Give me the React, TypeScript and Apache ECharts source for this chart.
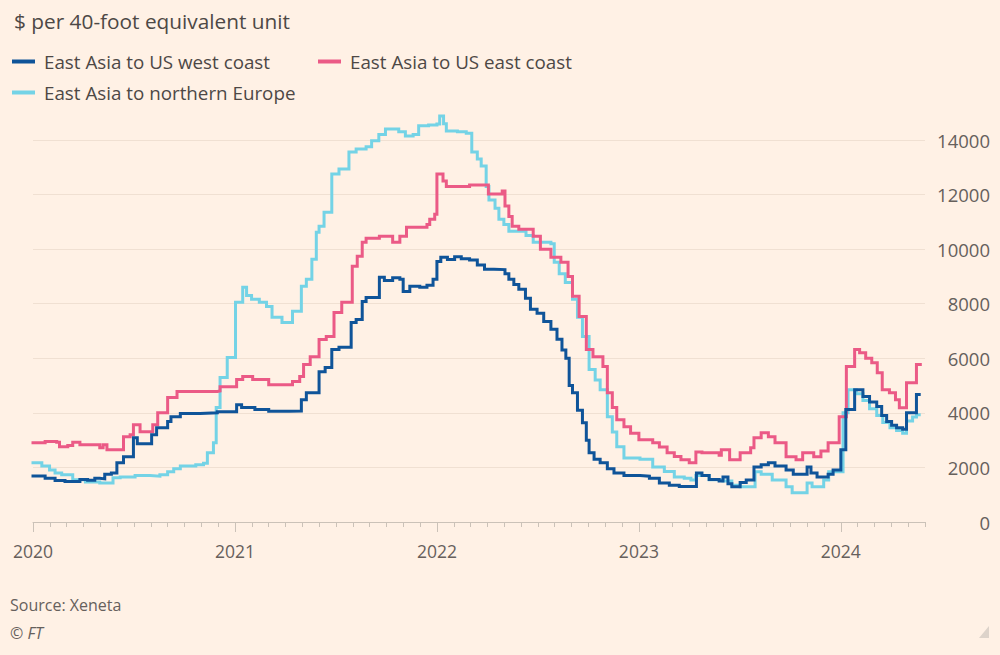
import React, { useEffect, useRef } from 'react';
import * as echarts from 'echarts';

const TITLE = '$ per 40-foot equivalent unit';
const SOURCE = 'Source: Xeneta';
const COPYRIGHT = '© FT';
const SERIES_NAMES = ['East Asia to US west coast', 'East Asia to US east coast', 'East Asia to northern Europe'];
const YEAR_LABELS = [2020, 2021, 2022, 2023, 2024];
const X_END_MONTHS = 5; // axis runs to the start of June 2024
const Y_MAX = 14000;
const Y_STEP = 2000;

const westCoast: [string, number][] = [
  ['2020-01-01', 1690], ['2020-01-23', 1600], ['2020-02-10', 1520], ['2020-02-28', 1480],
  ['2020-03-26', 1560], ['2020-04-09', 1530], ['2020-04-22', 1600], ['2020-05-01', 1580],
  ['2020-05-10', 1750], ['2020-05-22', 1800], ['2020-06-01', 2170], ['2020-06-13', 2390],
  ['2020-07-01', 3090], ['2020-07-08', 2870], ['2020-08-03', 3200], ['2020-08-12', 3450],
  ['2020-09-01', 3680], ['2020-09-07', 3860], ['2020-09-24', 3980], ['2020-10-30', 4000],
  ['2020-11-30', 4040], ['2021-01-04', 4300], ['2021-01-13', 4200], ['2021-02-06', 4120],
  ['2021-03-03', 4060], ['2021-04-09', 4070], ['2021-05-01', 4480], ['2021-05-10', 4740],
  ['2021-06-02', 5510], ['2021-06-13', 5660], ['2021-06-25', 6320], ['2021-07-08', 6400],
  ['2021-07-30', 7310], ['2021-08-08', 7420], ['2021-08-19', 8080], ['2021-08-26', 8230],
  ['2021-09-19', 8970], ['2021-09-28', 8850], ['2021-10-13', 8950], ['2021-10-26', 8900],
  ['2021-11-01', 8450], ['2021-11-13', 8640], ['2021-12-01', 8600], ['2021-12-14', 8680],
  ['2021-12-25', 8900], ['2022-01-01', 9550], ['2022-01-08', 9700], ['2022-01-20', 9620],
  ['2022-02-02', 9720], ['2022-02-14', 9650], ['2022-03-01', 9600], ['2022-03-15', 9420],
  ['2022-03-28', 9260], ['2022-04-14', 9250], ['2022-05-04', 9100], ['2022-05-11', 8900],
  ['2022-05-20', 8700], ['2022-05-29', 8530], ['2022-06-10', 8200], ['2022-06-19', 7800],
  ['2022-07-01', 7650], ['2022-07-13', 7350], ['2022-07-26', 7060], ['2022-08-06', 6700],
  ['2022-08-15', 6300], ['2022-08-22', 6000], ['2022-08-28', 5000], ['2022-09-03', 4740],
  ['2022-09-12', 4100], ['2022-09-21', 3640], ['2022-09-28', 3000], ['2022-10-03', 2540],
  ['2022-10-12', 2300], ['2022-10-23', 2170], ['2022-11-05', 1950], ['2022-11-17', 1800],
  ['2022-12-05', 1700], ['2023-01-03', 1680], ['2023-01-20', 1600], ['2023-02-07', 1430],
  ['2023-02-25', 1350], ['2023-03-15', 1300], ['2023-04-15', 1800], ['2023-04-25', 1700],
  ['2023-05-08', 1560], ['2023-05-26', 1500], ['2023-06-02', 1650], ['2023-06-11', 1400],
  ['2023-06-18', 1290], ['2023-07-03', 1450], ['2023-07-14', 1540], ['2023-07-28', 2020],
  ['2023-08-10', 2100], ['2023-08-23', 2170], ['2023-09-04', 2050], ['2023-09-24', 1910],
  ['2023-10-07', 1750], ['2023-11-01', 2020], ['2023-11-08', 1800], ['2023-11-19', 1650],
  ['2023-12-09', 1750], ['2023-12-18', 1910], ['2024-01-01', 2650], ['2024-01-10', 4120],
  ['2024-01-26', 4850], ['2024-02-10', 4600], ['2024-02-22', 4400], ['2024-03-06', 4230],
  ['2024-03-15', 3900], ['2024-03-24', 3680], ['2024-04-02', 3550], ['2024-04-11', 3450],
  ['2024-04-22', 3400], ['2024-04-29', 4000], ['2024-05-17', 4670], ['2024-05-22', 4670],
];

const eastCoast: [string, number][] = [
  ['2020-01-01', 2900], ['2020-01-23', 2950], ['2020-02-13', 2920], ['2020-02-18', 2760],
  ['2020-03-04', 2800], ['2020-03-13', 2920], ['2020-03-26', 2830], ['2020-05-01', 2720],
  ['2020-05-07', 2830], ['2020-05-14', 2650], ['2020-06-13', 3120], ['2020-06-25', 3200],
  ['2020-07-01', 3560], ['2020-07-13', 3310], ['2020-08-05', 3560], ['2020-08-14', 4000],
  ['2020-09-01', 4560], ['2020-09-18', 4780], ['2020-11-30', 4800], ['2020-12-05', 4960],
  ['2021-01-04', 5220], ['2021-01-15', 5330], ['2021-02-02', 5220], ['2021-03-03', 5030],
  ['2021-04-15', 5150], ['2021-04-28', 5330], ['2021-05-05', 5770], ['2021-05-17', 6060],
  ['2021-06-02', 6690], ['2021-06-15', 6800], ['2021-06-29', 7680], ['2021-07-13', 8050],
  ['2021-08-01', 9370], ['2021-08-10', 9740], ['2021-08-19', 10250], ['2021-08-26', 10400],
  ['2021-09-19', 10470], ['2021-10-13', 10250], ['2021-10-26', 10470], ['2021-11-07', 10800],
  ['2021-12-14', 10900], ['2021-12-19', 11100], ['2021-12-28', 11280], ['2022-01-01', 12750],
  ['2022-01-12', 12500], ['2022-01-18', 12300], ['2022-03-01', 12350], ['2022-04-04', 12020],
  ['2022-04-29', 12130], ['2022-05-04', 11580], ['2022-05-11', 11200], ['2022-05-17', 10840],
  ['2022-05-29', 10730], ['2022-06-24', 10470], ['2022-07-07', 10000], ['2022-07-26', 9700],
  ['2022-08-13', 9520], ['2022-08-26', 9000], ['2022-09-03', 8270], ['2022-09-15', 7530],
  ['2022-09-28', 6320], ['2022-10-10', 6060], ['2022-10-28', 5700], ['2022-11-05', 4740],
  ['2022-11-14', 4200], ['2022-11-22', 3750], ['2022-12-05', 3490], ['2022-12-17', 3250],
  ['2023-01-01', 3010], ['2023-01-26', 2900], ['2023-02-07', 2750], ['2023-02-21', 2540],
  ['2023-03-06', 2400], ['2023-03-18', 2280], ['2023-04-02', 2170], ['2023-04-14', 2570],
  ['2023-04-25', 2540], ['2023-05-26', 2450], ['2023-05-30', 2650], ['2023-06-14', 2280],
  ['2023-07-03', 2540], ['2023-07-22', 2720], ['2023-07-28', 3090], ['2023-08-10', 3270],
  ['2023-08-23', 3120], ['2023-09-04', 2900], ['2023-09-24', 2390], ['2023-10-12', 2280],
  ['2023-10-24', 2540], ['2023-11-13', 2390], ['2023-11-26', 2600], ['2023-12-09', 2900],
  ['2023-12-29', 3860], ['2024-01-11', 5700], ['2024-01-26', 6320], ['2024-02-04', 6200],
  ['2024-02-15', 6000], ['2024-02-26', 5840], ['2024-03-07', 5470], ['2024-03-16', 4850],
  ['2024-03-29', 4740], ['2024-04-09', 4480], ['2024-04-16', 4190], ['2024-04-29', 5100],
  ['2024-05-12', 5100], ['2024-05-17', 5770], ['2024-05-24', 5770],
];

const northernEurope: [string, number][] = [
  ['2020-01-01', 2170], ['2020-01-17', 2050], ['2020-01-31', 1910], ['2020-02-10', 1800],
  ['2020-02-22', 1730], ['2020-03-13', 1550], ['2020-04-05', 1470], ['2020-05-01', 1430],
  ['2020-05-25', 1620], ['2020-06-07', 1650], ['2020-07-04', 1700], ['2020-07-31', 1680],
  ['2020-08-18', 1730], ['2020-09-01', 1840], ['2020-09-12', 1950], ['2020-09-24', 2050],
  ['2020-10-22', 2100], ['2020-11-05', 2150], ['2020-11-12', 2540], ['2020-11-23', 2900],
  ['2020-11-28', 4200], ['2020-12-05', 5300], ['2020-12-18', 6030], ['2021-01-02', 8050],
  ['2021-01-15', 8600], ['2021-01-22', 8300], ['2021-01-31', 8160], ['2021-02-14', 8050],
  ['2021-02-27', 7900], ['2021-03-09', 7500], ['2021-03-27', 7310], ['2021-04-15', 7720],
  ['2021-05-01', 8640], ['2021-05-10', 8900], ['2021-05-20', 9630], ['2021-05-28', 10620],
  ['2021-06-02', 10840], ['2021-06-11', 11350], ['2021-06-25', 12750], ['2021-07-08', 12940],
  ['2021-07-26', 13560], ['2021-08-08', 13670], ['2021-08-26', 13750], ['2021-09-05', 13970],
  ['2021-09-18', 14200], ['2021-09-30', 14400], ['2021-10-24', 14300], ['2021-11-05', 14150],
  ['2021-11-19', 14200], ['2021-11-29', 14520], ['2021-12-17', 14550], ['2022-01-01', 14590],
  ['2022-01-06', 14880], ['2022-01-13', 14600], ['2022-01-18', 14330], ['2022-02-07', 14300],
  ['2022-02-23', 14250], ['2022-03-05', 13560], ['2022-03-15', 13300], ['2022-03-22', 13050],
  ['2022-03-31', 12300], ['2022-04-05', 11800], ['2022-04-16', 11500], ['2022-04-23', 11100],
  ['2022-05-02', 10900], ['2022-05-11', 10660], ['2022-06-11', 10500], ['2022-06-24', 10250],
  ['2022-07-26', 10200], ['2022-08-01', 9520], ['2022-08-10', 9100], ['2022-08-21', 8780],
  ['2022-09-03', 8160], ['2022-09-12', 7500], ['2022-09-21', 6800], ['2022-10-03', 5590],
  ['2022-10-14', 5200], ['2022-10-23', 4850], ['2022-11-05', 3860], ['2022-11-14', 3300],
  ['2022-11-22', 2760], ['2022-12-05', 2350], ['2023-01-03', 2300], ['2023-01-26', 2020],
  ['2023-02-16', 1850], ['2023-03-06', 1650], ['2023-03-24', 1600], ['2023-04-05', 1540],
  ['2023-04-14', 1700], ['2023-05-08', 1550], ['2023-06-02', 1500], ['2023-06-18', 1350],
  ['2023-07-03', 1290], ['2023-07-30', 1840], ['2023-08-10', 1750], ['2023-08-30', 1540],
  ['2023-09-24', 1290], ['2023-10-05', 1070], ['2023-11-01', 1430], ['2023-11-10', 1290],
  ['2023-12-01', 1540], ['2023-12-10', 1840], ['2024-01-05', 4000], ['2024-01-14', 4850],
  ['2024-01-29', 4700], ['2024-02-10', 4450], ['2024-02-22', 4150], ['2024-03-06', 3900],
  ['2024-03-17', 3650], ['2024-03-30', 3450], ['2024-04-11', 3350], ['2024-04-22', 3250],
  ['2024-04-29', 3700], ['2024-05-10', 3850], ['2024-05-17', 3930], ['2024-05-22', 3930],
];

const COLORS = { west: '#0f5499', east: '#eb5a86', europe: '#74d3e6' };

function toYear(d: string): number {
  const [y, m, day] = d.split('-').map(Number);
  const start = Date.UTC(y, 0, 1);
  const end = Date.UTC(y + 1, 0, 1);
  return y + (Date.UTC(y, m - 1, day) - start) / (end - start);
}

export default function App() {
  const ref = useRef<HTMLDivElement>(null);
  useEffect(() => {
    if (!ref.current) return;
    const chart = echarts.init(ref.current, undefined, { renderer: 'svg' });
    const font = '"Open Sans", Roboto, sans-serif';
    const xMin = YEAR_LABELS[0];
    const xMax = YEAR_LABELS[YEAR_LABELS.length - 1] + X_END_MONTHS / 12;
    const monthTicks: number[] = [];
    for (let k = 0; xMin + k / 12 <= xMax + 1e-9; k++) monthTicks.push(xMin + k / 12);

    const mk = (name: string, data: [string, number][], color: string) => ({
      name,
      type: 'line',
      step: 'end',
      showSymbol: false,
      symbol: 'none',
      clip: false,
      color,
      lineStyle: { width: 3, color, cap: 'square', join: 'miter' },
      data: data.map(([d, v]) => [toYear(d), v]),
    });

    const legendBase = {
      icon: 'rect',
      itemWidth: 23,
      itemHeight: 4,
      padding: 0,
      selectedMode: false,
      textStyle: { fontFamily: font, fontSize: 18.8, color: '#4d4845', padding: [0, 0, 0, 4] },
    };

    chart.setOption({
      animation: false,
      backgroundColor: '#fff1e5',
      textStyle: { fontFamily: font },
      title: {
        text: TITLE,
        left: 9,
        top: 5,
        textStyle: { fontFamily: font, fontSize: 20.8, fontWeight: 'normal', color: '#4d4845' },
      },
      legend: [
        { ...legendBase, data: [SERIES_NAMES[0]], left: 12, top: 52 },
        { ...legendBase, data: [SERIES_NAMES[1]], left: 318, top: 52 },
        { ...legendBase, data: [SERIES_NAMES[2]], left: 12, top: 83 },
      ],
      grid: { left: 33, right: 75, top: 140, bottom: 133, containLabel: false },
      xAxis: [
        {
          type: 'value',
          min: xMin,
          max: xMax,
          position: 'bottom',
          axisLine: { show: true, onZero: false, lineStyle: { color: '#cbc2b8', width: 1 } },
          axisTick: { show: true, length: 10, customValues: YEAR_LABELS, lineStyle: { color: '#cbc2b8' } },
          axisLabel: {
            show: true,
            customValues: YEAR_LABELS,
            formatter: (v: number) => String(Math.round(v)),
            margin: 20,
            fontSize: 17.5,
            color: '#66605c',
            fontFamily: font,
          },
          splitLine: { show: false },
        },
        {
          type: 'value',
          min: xMin,
          max: xMax,
          position: 'bottom',
          axisLine: { show: false, onZero: false },
          axisTick: { show: true, length: 5, customValues: monthTicks, lineStyle: { color: '#cbc2b8' } },
          axisLabel: { show: false },
          splitLine: { show: false },
        },
      ],
      yAxis: {
        type: 'value',
        position: 'right',
        min: 0,
        max: Y_MAX,
        interval: Y_STEP,
        axisLine: { show: false },
        axisTick: { show: false },
        axisLabel: {
          align: 'right',
          margin: 65,
          fontSize: 18.5,
          color: '#66605c',
          fontFamily: font,
          formatter: (v: number) => String(v),
        },
        splitLine: { show: true, lineStyle: { color: '#f0e0d2', width: 1 } },
      },
      series: [
        mk(SERIES_NAMES[2], northernEurope, COLORS.europe),
        mk(SERIES_NAMES[1], eastCoast, COLORS.east),
        mk(SERIES_NAMES[0], westCoast, COLORS.west),
      ],
      graphic: [
        {
          type: 'text',
          left: 10,
          top: 597,
          style: { text: SOURCE, font: `16px ${font}`, fill: '#66605c' },
        },
        {
          type: 'text',
          left: 10,
          top: 625,
          style: { text: COPYRIGHT, font: `italic 16px ${font}`, fill: '#66605c' },
        },
        {
          type: 'polygon',
          shape: { points: [[989, 626], [989, 638], [979, 638]] },
          style: { fill: '#ddd3ca' },
        },
      ],
    });
    return () => chart.dispose();
  }, []);
  return (
    <div style={{ position: 'fixed', left: 0, top: 0, width: 1000, height: 655, background: '#fff1e5' }}>
      <div ref={ref} style={{ width: 1000, height: 655 }} />
    </div>
  );
}
